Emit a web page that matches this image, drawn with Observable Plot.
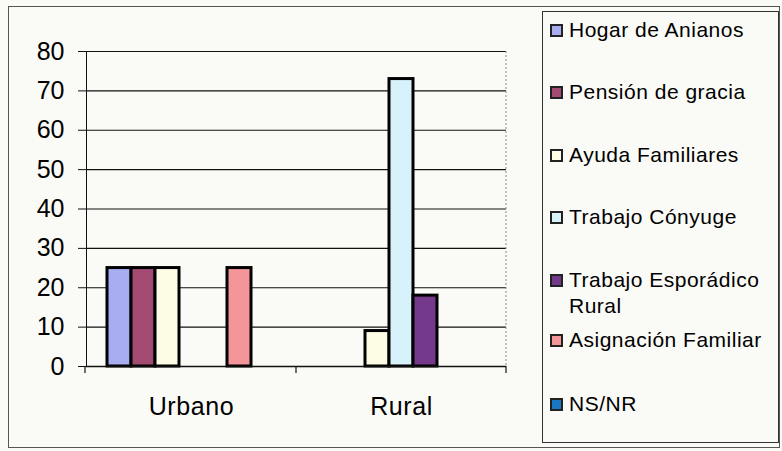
<!DOCTYPE html>
<html><head><meta charset="utf-8">
<script src="https://cdn.jsdelivr.net/npm/d3@7"></script>
<script src="https://cdn.jsdelivr.net/npm/@observablehq/plot@0.6"></script>
<style>
html,body{margin:0;padding:0;background:#fafaf6;}
#wrap{position:relative;width:782px;height:451px;background:#fafaf6;font-family:"Liberation Sans",Arial,sans-serif;overflow:hidden;}
#frame{position:absolute;left:8px;top:6px;width:772px;height:442px;border:1px solid #555;box-sizing:border-box;pointer-events:none;}
#legend{position:absolute;left:542px;top:11px;width:237px;height:432px;border:1px solid #333;box-sizing:border-box;}
.item{position:absolute;left:0;width:100%;}
.sw{position:absolute;left:7px;width:9px;height:9px;border:2px solid #222;}
.lbl{position:absolute;left:26px;font-size:21px;letter-spacing:0.5px;line-height:24px;color:#000;white-space:nowrap;}
#chart{position:absolute;left:0;top:0;}
svg g[aria-label^="y-axis"] text{font-size:25px;fill:#000;}
svg g[aria-label^="fx-axis"] text{font-size:25px;letter-spacing:0.6px;fill:#000;}
</style>
</head><body>
<div id="wrap"><div id="chart"></div><div id="legend"></div><div id="frame"></div></div>
<script>
const categories = ["Urbano", "Rural"];
const series = ["Hogar de Anianos", "Pensión de gracia", "Ayuda Familiares", "Trabajo Cónyuge", "Trabajo Esporádico Rural", "Asignación Familiar", "NS/NR"];
const legendLabels = ["Hogar de Anianos", "Pensión de gracia", "Ayuda Familiares", "Trabajo Cónyuge", "Trabajo Esporádico<br>Rural", "Asignación Familiar", "NS/NR"];
const urbanoValues = [25, 25, 25, 0, 0, 25, 0];
const ruralValues = [0, 0, 9, 73, 18, 0, 0];
const colors = ["#a8acf0", "#a34a72", "#fdfde6", "#d8f2fc", "#74398a", "#f4959a", "#1a78c2"];
const yTicks = [0, 10, 20, 30, 40, 50, 60, 70, 80];

const data = [];
series.forEach((s, i) => {
  data.push({category: "Urbano", series: s, value: urbanoValues[i]});
  data.push({category: "Rural", series: s, value: ruralValues[i]});
});
const bars = data.filter(d => d.value > 0);

const plot = Plot.plot({
  width: 782, height: 451,
  marginLeft: 85, marginRight: 276, marginTop: 51, marginBottom: 85,
  style: {background: "transparent", fontFamily: '"Liberation Sans", Arial, sans-serif', color: "#111"},
  fx: {domain: categories, padding: 0, label: null, axis: "bottom", tickSize: 0, tickPadding: 31},
  x: {domain: series, paddingInner: 0, paddingOuter: 0.75, axis: null},
  y: {domain: [0, 80], ticks: yTicks, tickSize: 8, tickPadding: 14, label: null, tickFormat: d => String(d), line: true},
  color: {domain: series, range: colors},
  marks: [
    Plot.ruleY(yTicks.filter(d => d > 0), {stroke: "#111", strokeWidth: 1.2}),
    Plot.barY(bars, {fx: "category", x: "series", y: "value", fill: "series", stroke: "#000", strokeWidth: 3}),
    Plot.ruleY([0], {stroke: "#111", strokeWidth: 1.5})
  ]
});
document.getElementById("chart").appendChild(plot);

// axis details using the plot's own scales
const svg = d3.select(plot.tagName.toLowerCase() === "svg" ? plot : plot.querySelector("svg"));
const fxs = plot.scale("fx");
const ys = plot.scale("y");
const r = fxs.range;
const y0 = ys.apply ? ys.apply(0) : 366;
const yTop = ys.apply ? ys.apply(80) : 51;
const mid = fxs.apply ? fxs.apply("Rural") : (r[0] + r[1]) / 2;
[r[0], mid, r[1]].forEach(x => {
  svg.append("line").attr("x1", x).attr("x2", x).attr("y1", y0).attr("y2", y0 + 7).attr("stroke", "#111").attr("stroke-width", 1.2);
});
svg.append("line").attr("x1", r[1]).attr("x2", r[1]).attr("y1", yTop).attr("y2", y0)
  .attr("stroke", "#888").attr("stroke-dasharray", "2,2");

// legend
const centers = [18, 80, 143, 205, 268, 328, 392];
const leg = document.getElementById("legend");
series.forEach((s, i) => {
  const it = document.createElement("div");
  it.className = "item";
  const sw = document.createElement("div");
  sw.className = "sw";
  sw.style.top = (centers[i] - 6.5) + "px";
  sw.style.background = colors[i];
  const lb = document.createElement("div");
  lb.className = "lbl";
  lb.innerHTML = legendLabels[i];
  if (i === 4) { lb.style.lineHeight = "26px"; lb.style.top = (centers[i] - 13) + "px"; }
  else lb.style.top = (centers[i] - 12) + "px";
  it.appendChild(sw); it.appendChild(lb);
  leg.appendChild(it);
});
</script>
</body></html>
